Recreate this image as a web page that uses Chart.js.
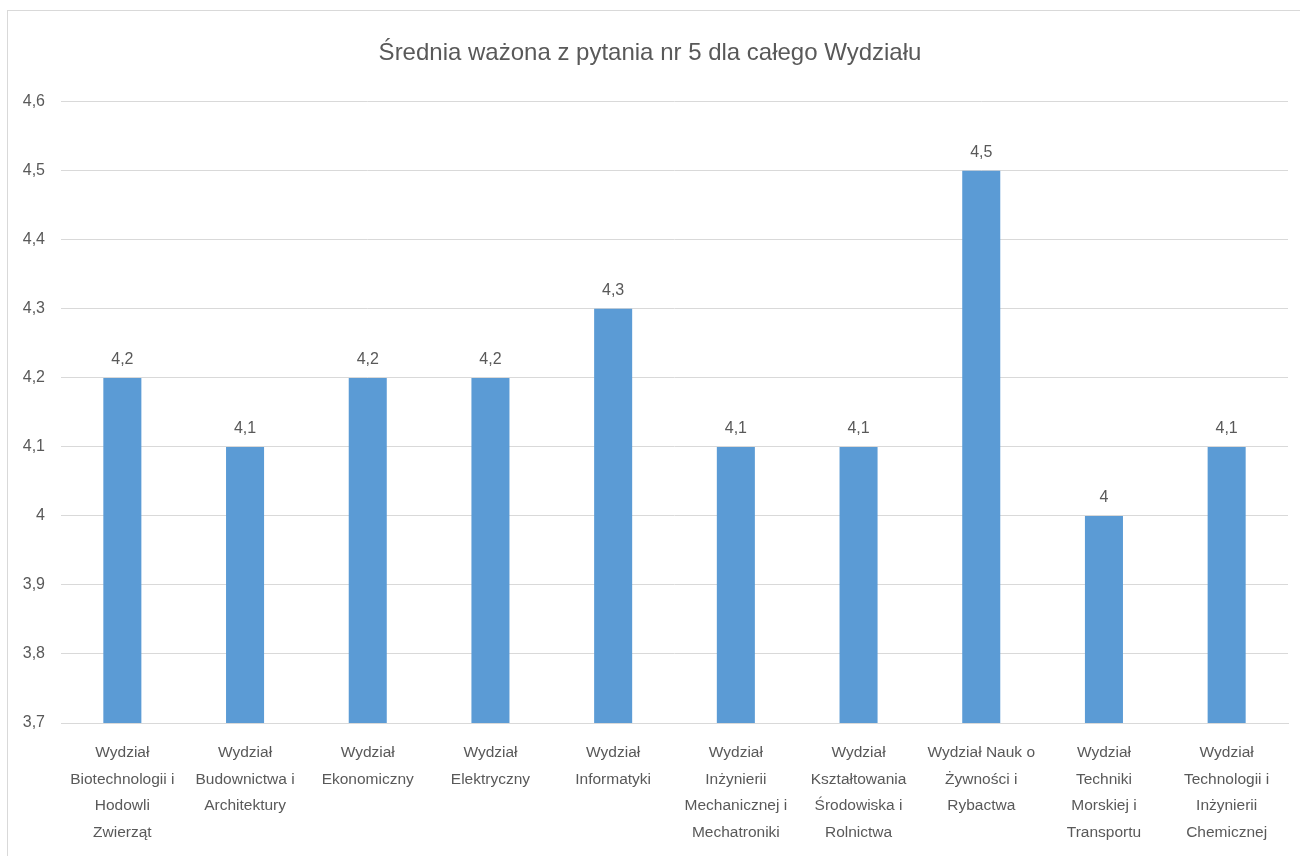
<!DOCTYPE html>
<html>
<head>
<meta charset="utf-8">
<script src="https://cdn.jsdelivr.net/npm/chart.js@4.4.1/dist/chart.umd.min.js"></script>
<style>
html,body{margin:0;padding:0;background:#fff;}
#wrap{position:relative;width:1300px;height:856px;overflow:hidden;}
#frame{position:absolute;left:7px;top:10px;width:1400px;height:900px;border-top:1px solid #d9d9d9;border-left:1px solid #d9d9d9;}
#c{position:absolute;left:0;top:0;}
</style>
</head>
<body>
<div id="wrap"><div id="frame"></div><canvas id="c" width="1300" height="856"></canvas></div>
<script>
const titleText = "Średnia ważona z pytania nr 5 dla całego Wydziału";
const categories = [
  ["Wydział", "Biotechnologii i", "Hodowli", "Zwierząt"],
  ["Wydział", "Budownictwa i", "Architektury"],
  ["Wydział", "Ekonomiczny"],
  ["Wydział", "Elektryczny"],
  ["Wydział", "Informatyki"],
  ["Wydział", "Inżynierii", "Mechanicznej i", "Mechatroniki"],
  ["Wydział", "Kształtowania", "Środowiska i", "Rolnictwa"],
  ["Wydział Nauk o", "Żywności i", "Rybactwa"],
  ["Wydział", "Techniki", "Morskiej i", "Transportu"],
  ["Wydział", "Technologii i", "Inżynierii", "Chemicznej"]
];
const values = [4.2, 4.1, 4.2, 4.2, 4.3, 4.1, 4.1, 4.5, 4.0, 4.1];
const yMin = 3.7, yMax = 4.6, yStep = 0.1;

const FONT = "'Liberation Sans', 'DejaVu Sans', sans-serif";
const TXT = "#595959";
const fmt = v => String(Math.round(v * 10) / 10).replace('.', ',');

const dataLabels = {
  id: 'dataLabels',
  afterDatasetsDraw(chart) {
    const ctx = chart.ctx;
    const meta = chart.getDatasetMeta(0);
    ctx.save();
    ctx.font = "16px " + FONT;
    ctx.fillStyle = TXT;
    ctx.textAlign = 'center';
    ctx.textBaseline = 'bottom';
    meta.data.forEach((bar, i) => {
      ctx.fillText(fmt(values[i]), bar.x, bar.y - 10);
    });
    ctx.restore();
  }
};

new Chart(document.getElementById('c'), {
  type: 'bar',
  data: {
    labels: categories,
    datasets: [{
      data: values,
      backgroundColor: '#5B9BD5',
      borderWidth: 0,
      categoryPercentage: 1.0,
      barPercentage: 0.31
    }]
  },
  options: {
    responsive: false,
    animation: false,
    devicePixelRatio: 1,
    layout: { padding: { left: 12, right: 12, top: 20, bottom: 0 } },
    plugins: {
      legend: { display: false },
      tooltip: { enabled: false },
      title: {
        display: true,
        text: titleText,
        color: TXT,
        font: { family: FONT, size: 24, weight: 'normal' },
        padding: { top: 19, bottom: 34 }
      }
    },
    scales: {
      x: {
        grid: { display: false, drawTicks: false },
        border: { display: true, color: '#d9d9d9' },
        ticks: {
          color: TXT,
          font: { family: FONT, size: 15.5, lineHeight: 1.7 },
          maxRotation: 0,
          autoSkip: false,
          padding: 17
        },
        afterFit: s => { s.height = 133; }
      },
      y: {
        min: yMin, max: yMax,
        grid: { color: '#d9d9d9', drawTicks: false },
        border: { display: false },
        ticks: {
          stepSize: yStep,
          color: TXT,
          font: { family: FONT, size: 16 },
          padding: 16,
          callback: v => fmt(v)
        },
        afterFit: s => { s.width = 49; }
      }
    }
  },
  plugins: [dataLabels]
});
</script>
</body>
</html>
